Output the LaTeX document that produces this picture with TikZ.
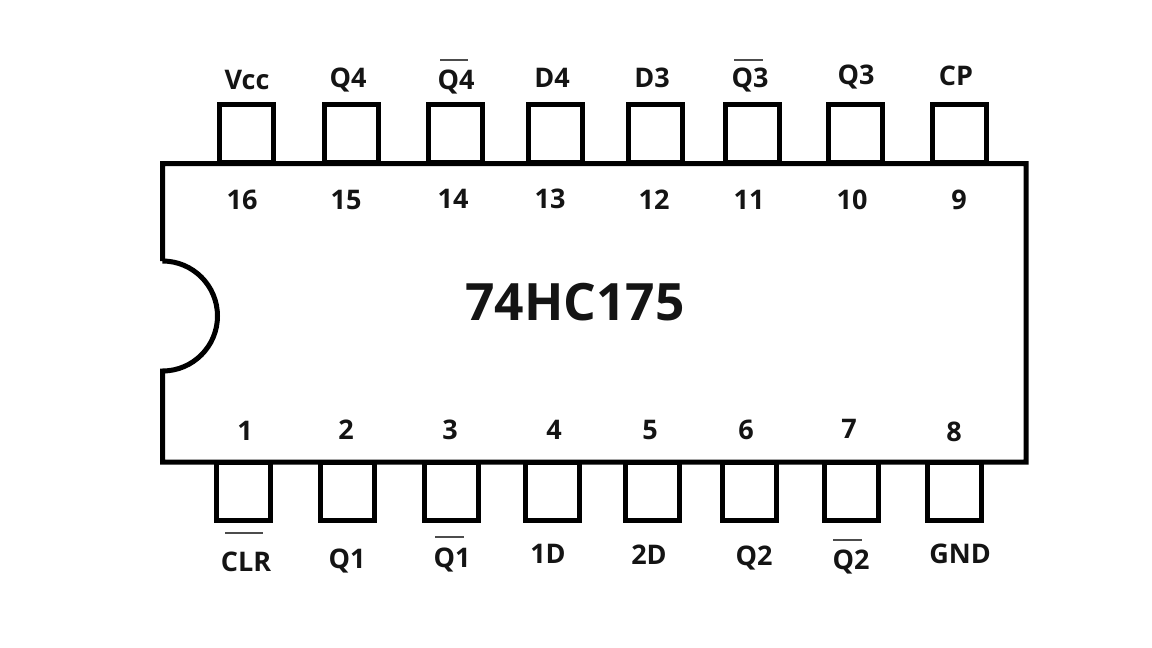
\documentclass[tikz,border=0pt]{standalone}
\usepackage{fontspec}
\setmainfont{Open Sans}
\begin{document}
\begin{tikzpicture}[x=1pt,y=-1pt,
  line width=5pt,
  pin/.style={draw,line join=miter,minimum width=54pt,minimum height=58pt,inner sep=0pt,outer sep=0pt},
  lbl/.style={font=\fontsize{27}{27}\bfseries\selectfont,text=black!92,inner sep=0pt,text height=19.3pt,text depth=0pt,anchor=center,yshift=-0.8pt},
  bar/.style={line width=1.8pt,draw=black!70}]
\useasboundingbox (0,0) rectangle (1152,648);
\fill[white] (0,0) rectangle (1152,648);
% top pins
\foreach \n/\x in {p16/246.5,p15/351,p14/455,p13/555,p12/655,p11/752,p10/855,p9/959}
  \node[pin] (\n) at (\x,133.5) {};
% bottom pins
\foreach \n/\x in {p1/243.5,p2/347.5,p3/451.5,p4/552,p5/652,p6/749,p7/851,p8/954.5}
  \node[pin] (\n) at (\x,491.5) {};
% body
\draw[line join=miter,fill=white] (162.5,261) -- (162.5,163.5) -- (1026,163.5) -- (1026,462) -- (162.5,462) -- (162.5,371)
  arc[start angle=90,end angle=-90,radius=55];
% pin numbers
\foreach \t/\x/\y in {16/242/199,15/346/199,14/453/198,13/550/198,12/654/199,11/749/199,10/852/199,9/959/199,
  1/245/430,2/346/429,3/450/429,4/554/429,5/650/429,6/746/429,7/849/428,8/954/431}
  \node[lbl] at (\x,\y) {\t};
% top names
\node[lbl] (vcc) at (247,79) {Vcc};
\node[lbl] (q4) at (348,77.5) {Q4};
\node[lbl] (nq4) at (456,79) {Q4};
\node[lbl] (d4) at (552,77) {D4};
\node[lbl] (d3) at (652,77) {D3};
\node[lbl] (nq3) at (750,77) {Q3};
\node[lbl] (q3) at (856,74) {Q3};
\node[lbl] (cp) at (956,75) {CP};
% bottom names
\node[lbl] (clr) at (246,561) {CLR};
\node[lbl] (q1) at (347,558) {Q1};
\node[lbl] (nq1) at (452,557) {Q1};
\node[lbl] (d1) at (548,553) {1D};
\node[lbl] (d2) at (649,554) {2D};
\node[lbl] (q2) at (754,555) {Q2};
\node[lbl] (nq2) at (851,559) {Q2};
\node[lbl] (gnd) at (960,553) {GND};
% overbars
\draw[bar] (440,60) -- (468,60);
\draw[bar] (734,60) -- (763,60);
\draw[bar] (225,533) -- (263,533);
\draw[bar] (435,537) -- (464,537);
\draw[bar] (833,540) -- (862,540);
\node[font=\fontsize{51.5}{52}\bfseries\selectfont,text=black!92,inner sep=0pt] (title) at (575,302) {74HC175};
\end{tikzpicture}
\end{document}
